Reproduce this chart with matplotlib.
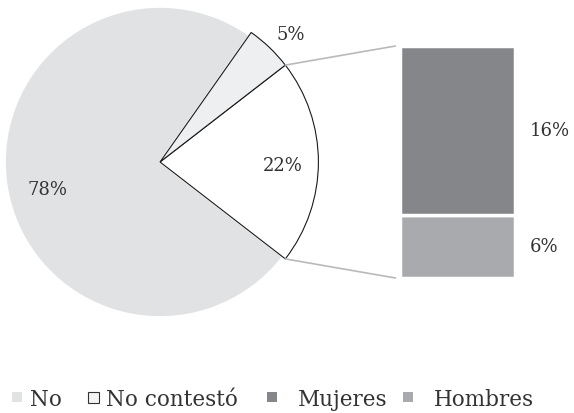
import matplotlib
matplotlib.use("Agg")
import matplotlib.pyplot as plt
from matplotlib.patches import ConnectionPatch, Rectangle
import numpy as np

# ---- data ----
pie_categories = ["Sí", "No contestó", "No"]
pie_values = [22, 5, 78]
bar_categories = ["Hombres", "Mujeres"]
bar_values = [6, 16]
legend_labels = ["No", "No contestó", "Mujeres", "Hombres"]

# ---- style ----
plt.rcParams['font.family'] = ['DejaVu Serif']
TXT = '#333333'
C_NO = '#e1e2e4'
C_NC = '#eeeff1'
C_SI = '#ffffff'
C_MUJ = '#858689'
C_HOM = '#a9aaad'
C_LINE = '#b9b9b9'

W, H = 574, 414
fig = plt.figure(figsize=(W / 100, H / 100), dpi=100)

def frac(x0, y0, x1, y1):
    return [x0 / W, (H - y1) / H, (x1 - x0) / W, (y1 - y0) / H]

# pie axes: center (160,163) px, 1 unit = 160 px
ax1 = fig.add_axes(frac(0, 3, 320, 323))
total = sum(pie_values)
start = -pie_values[0] / total * 360 / 2
wedges, _ = ax1.pie(pie_values, startangle=start, radius=0.99,
                    colors=[C_SI, C_NC, C_NO], counterclock=True,
                    wedgeprops=dict(linewidth=0.8, edgecolor='#1a1a1a'))
wedges[2].set_edgecolor('white')
wedges[2].set_linewidth(1.5)
wedges[2].set_radius(0.97)
wedges[2].set_zorder(0)
ax1.set_xlim(-1, 1)
ax1.set_ylim(-1, 1)
ax1.set_aspect('auto')
ax1.axis('off')

label_pos = [(0.77, -0.02), (0.815, 0.80), (-0.705, -0.17)]
for v, (x, y) in zip(pie_values, label_pos):
    ax1.text(x, y, f"{v}%", ha='center', va='center', fontsize=13, color=TXT)

# bar axes
ax2 = fig.add_axes(frac(400, 47, 515, 279))
bottom = 0
for v, c in zip(bar_values, [C_HOM, C_MUJ]):
    ax2.bar(0, v, width=1, bottom=bottom, color=c, edgecolor='white', linewidth=2.5)
    ax2.text(1.13, (bottom + v / 2) / sum(bar_values), f"{v}%", transform=ax2.transAxes,
             ha='left', va='center', fontsize=13, color=TXT)
    bottom += v
ax2.set_xlim(-0.5, 0.5)
ax2.set_ylim(0, sum(bar_values))
ax2.axis('off')

# connecting lines
w = wedges[0]
r = w.r
for ang, ybar in [(w.theta2, 1.0), (w.theta1, 0.0)]:
    x = r * np.cos(np.radians(ang))
    y = r * np.sin(np.radians(ang))
    con = ConnectionPatch(xyA=(-0.04, ybar), coordsA=ax2.transAxes,
                          xyB=(x, y), coordsB=ax1.transData,
                          color=C_LINE, linewidth=1.2)
    fig.add_artist(con)

# legend (manual, Excel-like spacing)
leg_y = 398
markers_x = [12, 88, 267, 403]
texts_x = [30, 106, 298, 434]
m_sizes = [10, 11, 10, 10]
m_colors = [C_NO, '#f4f4f5', C_MUJ, C_HOM]
m_edges = ['none', '#333333', 'none', 'none']
for lab, mx, tx, s, c, e in zip(legend_labels, markers_x, texts_x, m_sizes, m_colors, m_edges):
    fig.add_artist(Rectangle((mx / W, (H - leg_y - s / 2) / H), s / W, s / H,
                             transform=fig.transFigure, facecolor=c,
                             edgecolor=e, linewidth=0.8))
    fig.text(tx / W, (H - leg_y) / H, lab, ha='left', va='center_baseline',
             fontsize=15.5, color=TXT)

fig.savefig('out.png', dpi=100, facecolor='white')
